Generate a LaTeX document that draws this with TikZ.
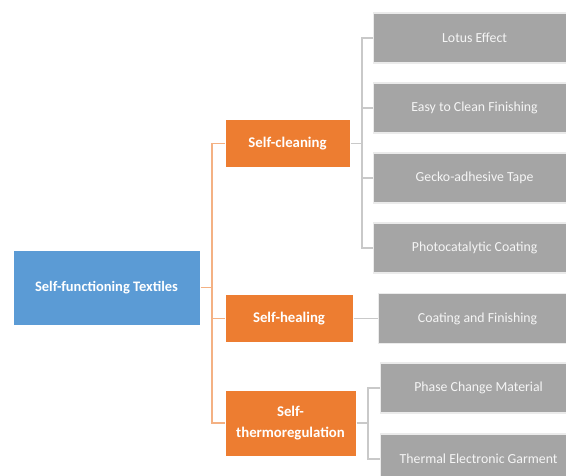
\documentclass[tikz,border=0pt]{standalone}
\usepackage{fontspec}
\setmainfont{Carlito}
\usetikzlibrary{positioning}
\definecolor{rootblue}{HTML}{5B9BD5}
\definecolor{catorange}{HTML}{ED7D31}
\definecolor{lineorange}{HTML}{F4B183}
\definecolor{leafgray}{HTML}{A5A5A5}
\definecolor{linegray}{HTML}{C9C9C9}
\tikzset{
        box/.style={align=center,inner sep=0pt,rectangle,text=white,font=\fontsize{13.8}{16}\selectfont},
        % Root node
        node_root/.style={box, fill=rootblue, draw=white, line width=1pt, minimum width=187pt, minimum height=75pt, font=\bfseries\fontsize{14.5}{17}\selectfont},
        % Category nodes
        node_cat/.style={box, fill=catorange, draw=white, line width=1pt, minimum height=48pt, font=\bfseries\fontsize{14.8}{21}\selectfont},
        % Leaf nodes
        node_leaf/.style={box, fill=leafgray, draw=white!92!black, line width=1.2pt, minimum width=202pt, minimum height=50pt, text=white!96!black},
        % Connectors
        link_orange/.style={draw=lineorange, line width=1.5pt},
        link_gray/.style={draw=linegray, line width=1.5pt}
}
\begin{document}
\begin{tikzpicture}[x=1pt,y=-1pt]
    \useasboundingbox (0,0) rectangle (566,475);
    \clip (0,0) rectangle (566,475);
    \node[node_root] (root) at (106.5,287.5) {Self-functioning Textiles};
    \node[node_cat, minimum width=125pt] (clean) at (287.5,143.5) {Self-cleaning};
    \node[node_cat, minimum width=128pt] (heal) at (289,318.5) {Self-healing};
    \node[node_cat, minimum width=131pt, minimum height=66pt] (thermo) at (290.5,423) {Self-\\thermoregulation};
    % leaves of self-cleaning
    \node[node_leaf, anchor=west] (lotus) at (373,38) {Lotus Effect};
    \node[node_leaf, anchor=west] (easy) at (373,108) {Easy to Clean Finishing};
    \node[node_leaf, anchor=west] (gecko) at (373,178) {Gecko-adhesive Tape};
    \node[node_leaf, anchor=west] (photo) at (373,248) {Photocatalytic Coating};
    % leaf of self-healing
    \node[node_leaf, anchor=west, minimum width=198pt] (coat) at (378,318.5) {Coating and Finishing};
    % leaves of self-thermoregulation
    \node[node_leaf, anchor=west, minimum width=196pt] (phase) at (380,388) {Phase Change Material};
    \node[node_leaf, anchor=west, minimum width=196pt] (thermal) at (380,459) {Thermal Electronic Garment};
    % buses
    \coordinate (rootbus) at (212,0);
    \coordinate (cleanbus) at (362,0);
    \coordinate (thermbus) at (368,0);
    \draw[link_orange] (root.east) -- (root.east -| rootbus);
    \draw[link_orange] (clean.west) -- (clean.west -| rootbus) |- (thermo.west);
    \draw[link_orange] (heal.west) -- (heal.west -| rootbus);
    \draw[link_gray] (clean.east) -- (clean.east -| cleanbus);
    \draw[link_gray] (lotus.west) -- (lotus.west -| cleanbus) |- (photo.west);
    \draw[link_gray] (easy.west) -- (easy.west -| cleanbus);
    \draw[link_gray] (gecko.west) -- (gecko.west -| cleanbus);
    \draw[link_gray] (heal.east) -- (coat.west);
    \draw[link_gray] (thermo.east) -- (thermo.east -| thermbus);
    \draw[link_gray] (phase.west) -- (phase.west -| thermbus) |- (thermal.west);
\end{tikzpicture}
\end{document}
